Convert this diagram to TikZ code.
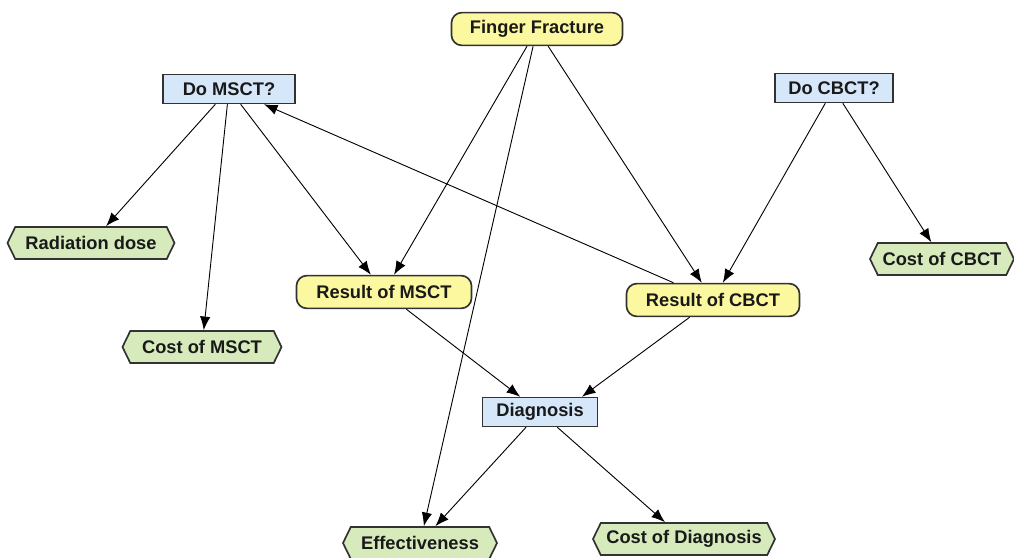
\documentclass[tikz,border=0pt]{standalone}
\usepackage{fontspec}
\setmainfont{Liberation Sans}
\usetikzlibrary{arrows.meta,shapes.symbols}
\definecolor{chanceyellow}{RGB}{252,248,160}
\definecolor{decisionblue}{RGB}{214,231,250}
\definecolor{utilitygreen}{RGB}{214,234,188}
\definecolor{rimgray}{RGB}{50,50,50}
\begin{document}
\begin{tikzpicture}[x=0.025cm,y=-0.025cm,
		every node/.style={font=\fontsize{13}{15}\selectfont\bfseries,text=black!90,line width=1.2pt,draw=rimgray},
		chance/.style={rounded corners=0.26cm,fill=chanceyellow,minimum height=0.82cm},
		decision/.style={rectangle,fill=decisionblue,minimum height=0.72cm},
		utility/.style={signal,signal to=west and east,signal pointer angle=128,fill=utilitygreen,minimum height=0.8cm},
		link/.style={line width=0.65pt,-{Latex[length=0.34cm,width=0.26cm]}}]
		\useasboundingbox (0,0) rectangle (1014,558);
		\node [chance,minimum width=4.275cm] (ff) at (537,29) {Finger Fracture};
		\node [decision,minimum width=3.3cm] (dom) at (229,89) {Do MSCT?};
		\node [decision,minimum width=2.95cm] (doc) at (834,88) {Do CBCT?};
		\node [utility,minimum width=4.175cm] (rad) at (91,243) {Radiation dose};
		\node [utility,minimum width=3.975cm] (costm) at (202,347) {Cost of MSCT};
		\node [chance,minimum width=4.375cm] (resm) at (384,292) {Result of MSCT};
		\node [chance,minimum width=4.325cm] (resc) at (713,300) {Result of CBCT};
		\node [utility,minimum width=3.6cm] (costc) at (942,259) {Cost of CBCT};
		\node [decision,minimum width=2.875cm] (diag) at (540,412) {Diagnosis};
		\node [utility,minimum width=3.85cm] (eff) at (420,543) {Effectiveness};
		\node [utility,minimum width=4.55cm] (costd) at (684,539) {Cost of Diagnosis};
		\draw [link] (ff) to (resm);
		\draw [link] (ff) to (eff);
		\draw [link] (ff) to (resc);
		\draw [link] (dom) to (rad);
		\draw [link] (dom) to (costm);
		\draw [link] (dom) to (resm);
		\draw [link] (resc) to (dom);
		\draw [link] (doc) to (resc);
		\draw [link] (doc.-60) to (costc);
		\draw [link] (resm) to (diag);
		\draw [link] (resc) to (diag.20);
		\draw [link] (diag) to (eff);
		\draw [link] (diag) to (costd);
	\end{tikzpicture}
\end{document}
